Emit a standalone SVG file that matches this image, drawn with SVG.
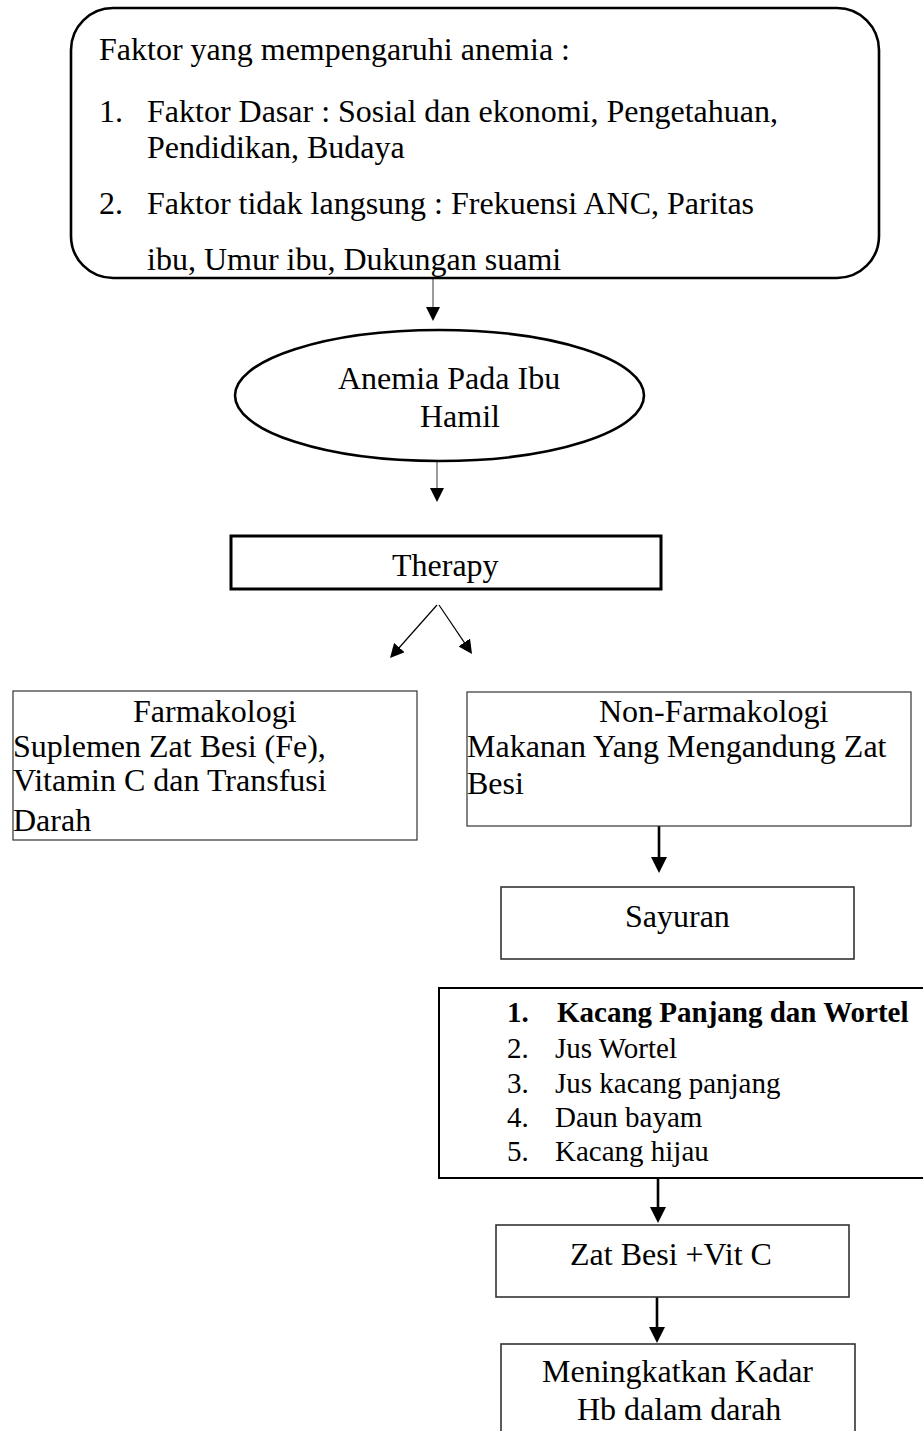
<svg xmlns="http://www.w3.org/2000/svg" width="923" height="1431" viewBox="0 0 923 1431">
<style>
  text { font-family: "Liberation Serif", "Times New Roman", serif; font-size: 32px; fill: #000; }
  .list { font-size: 29px; }
  .bold { font-weight: bold; }
  .box { fill: #fff; stroke: #000; }
  .thin { stroke: #333; stroke-width: 1.2; }
  .mid { stroke-width: 1.6; }
  .thick { stroke-width: 2.6; }
  .conn { fill: none; stroke-linecap: butt; }
  .gray { stroke: #666; stroke-width: 1.3; }
  .blk { stroke: #000; stroke-width: 1.2; }
  .heavy { stroke: #000; stroke-width: 2.6; }
</style>
<defs>
  <marker id="ah" viewBox="0 0 14 14" refX="10" refY="7" markerWidth="14" markerHeight="14" orient="auto" markerUnits="userSpaceOnUse">
    <path d="M0,0 L14,7 L0,14 z" fill="#000"/>
  </marker>
  <marker id="ahb" viewBox="0 0 16 16" refX="12" refY="8" markerWidth="16" markerHeight="16" orient="auto" markerUnits="userSpaceOnUse">
    <path d="M0,0 L16,8 L0,16 z" fill="#000"/>
  </marker>
</defs>

<rect width="923" height="1431" fill="#fff"/>

<g id="connectors">
  <line class="conn gray" x1="433" y1="279" x2="433" y2="317" marker-end="url(#ah)"/>
  <line class="conn gray" x1="437" y1="461" x2="437" y2="498" marker-end="url(#ah)"/>
  <line class="conn blk" x1="437" y1="605" x2="392.7" y2="655" marker-end="url(#ah)"/>
  <line class="conn blk" x1="439" y1="605" x2="469.8" y2="650.7" marker-end="url(#ah)"/>
  <line class="conn heavy" x1="659" y1="826" x2="659" y2="869" marker-end="url(#ahb)"/>
  <line class="conn heavy" x1="658" y1="1178" x2="658" y2="1219" marker-end="url(#ahb)"/>
  <line class="conn heavy" x1="657" y1="1297" x2="657" y2="1339" marker-end="url(#ahb)"/>
</g>

<g id="faktor">
  <rect class="box thick" x="71" y="8" width="808" height="270" rx="42" ry="42"/>
  <text x="99" y="60">Faktor yang mempengaruhi anemia :</text>
  <text x="99" y="122">1.</text>
  <text x="147" y="122">Faktor Dasar : Sosial dan ekonomi, Pengetahuan,</text>
  <text x="147" y="158">Pendidikan, Budaya</text>
  <text x="99" y="214">2.</text>
  <text x="147" y="214">Faktor tidak langsung : Frekuensi ANC, Paritas</text>
  <text x="147" y="270">ibu, Umur ibu, Dukungan suami</text>
</g>

<g id="anemia">
  <ellipse class="box thick" cx="439.5" cy="395.5" rx="204.5" ry="65.5"/>
  <text x="338" y="389">Anemia Pada Ibu</text>
  <text x="420" y="427">Hamil</text>
</g>

<g id="therapy">
  <rect class="box" stroke-width="3" x="231" y="536" width="430" height="53"/>
  <text x="392" y="576">Therapy</text>
</g>

<g id="farmakologi">
  <rect class="box thin" x="13" y="691" width="404" height="149"/>
  <text x="133" y="722">Farmakologi</text>
  <text x="13" y="757">Suplemen Zat Besi (Fe),</text>
  <text x="13" y="791">Vitamin C dan Transfusi</text>
  <text x="13" y="831">Darah</text>
</g>

<g id="non-farmakologi">
  <rect class="box thin" x="467" y="692" width="444" height="134"/>
  <text x="599" y="722">Non-Farmakologi</text>
  <text x="467" y="757">Makanan Yang Mengandung Zat</text>
  <text x="467" y="794">Besi</text>
</g>

<g id="sayuran">
  <rect class="box thin mid" x="501" y="887" width="353" height="72"/>
  <text x="625" y="927">Sayuran</text>
</g>

<g id="daftar">
  <rect class="box" stroke-width="2" x="439" y="988" width="490" height="190"/>
  <text class="list bold" x="507" y="1022">1.</text>
  <text class="list bold" x="557" y="1022">Kacang Panjang dan Wortel</text>
  <text class="list" x="507" y="1058">2.</text>
  <text class="list" x="555" y="1058">Jus Wortel</text>
  <text class="list" x="507" y="1093">3.</text>
  <text class="list" x="555" y="1093">Jus kacang panjang</text>
  <text class="list" x="507" y="1127">4.</text>
  <text class="list" x="555" y="1127">Daun bayam</text>
  <text class="list" x="507" y="1161">5.</text>
  <text class="list" x="555" y="1161">Kacang hijau</text>
</g>

<g id="zat-besi">
  <rect class="box thin mid" x="496" y="1225" width="353" height="72"/>
  <text x="570" y="1265">Zat Besi +Vit C</text>
</g>

<g id="hb">
  <rect class="box thin mid" x="501" y="1344" width="354" height="100"/>
  <text x="542" y="1382">Meningkatkan Kadar</text>
  <text x="577" y="1420">Hb dalam darah</text>
</g>
</svg>
